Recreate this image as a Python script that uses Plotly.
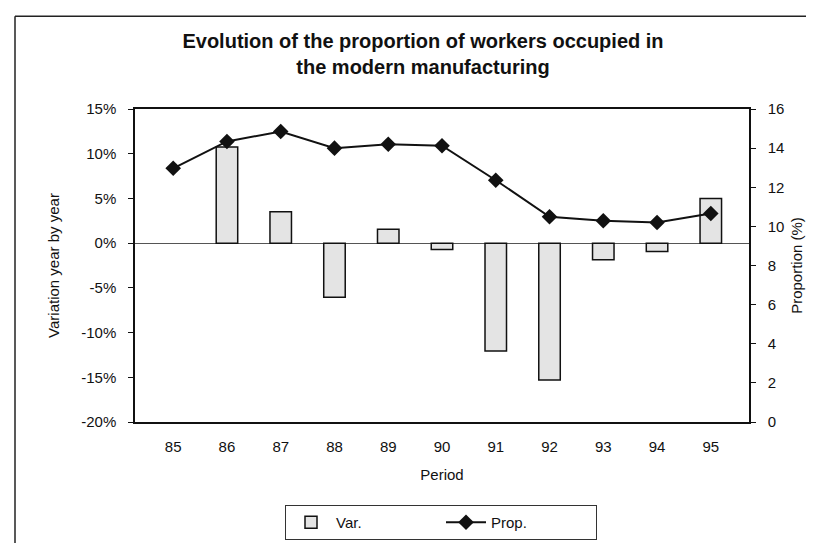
import plotly.graph_objects as go

periods = ["85", "86", "87", "88", "89", "90", "91", "92", "93", "94", "95"]
variation = [None, 0.1075, 0.035, -0.0605, 0.0155, -0.007, -0.1205, -0.153, -0.0185, -0.0093, 0.0498]
proportion = [12.97, 14.34, 14.85, 14.0, 14.2, 14.12, 12.36, 10.49, 10.29, 10.2, 10.66]

left_tickvals = [-0.20, -0.15, -0.10, -0.05, 0.0, 0.05, 0.10, 0.15]
left_ticktext = ["-20%", "-15%", "-10%", "-5%", "0%", "5%", "10%", "15%"]
right_tickvals = [0, 2, 4, 6, 8, 10, 12, 14, 16]

FONT = "Liberation Sans, Arial, sans-serif"

W, H = 814, 543
L, R, T, B = 127, 741, 101, 415
pw, ph = R - L, B - T

def px(x):
    return (x - L) / pw

def py(y):
    return (B - y) / ph

fig = go.Figure()
fig.add_trace(go.Bar(
    x=periods, y=variation, name="Var.", width=0.4,
    marker=dict(color="#e4e4e4", line=dict(color="#111111", width=1.5)),
    yaxis="y",
))
fig.add_trace(go.Scatter(
    x=periods, y=proportion, name="Prop.", mode="lines+markers",
    line=dict(color="#111111", width=2),
    marker=dict(symbol="diamond", size=12, color="#111111"),
    yaxis="y2",
))

fig.update_layout(
    width=W, height=H,
    margin=dict(l=L, r=W - R, t=T, b=H - B),
    paper_bgcolor="white", plot_bgcolor="white",
    font=dict(family=FONT, size=15, color="#111111"),
    title=dict(
        text="<b>Evolution of the proportion of workers occupied in<br>the modern manufacturing</b>",
        font=dict(family=FONT, size=20, color="#111111"),
        x=px(415), xanchor="center", xref="paper",
        y=1 - 40 / H, yanchor="top", yref="container",
    ),
    xaxis=dict(
        type="category", showline=True, linecolor="#111111", linewidth=1.5, mirror=True,
        ticks="", showgrid=False, tickfont=dict(size=15), ticklabelstandoff=10,
        title=dict(text="Period", font=dict(size=15), standoff=16),
    ),
    yaxis=dict(
        range=[-0.2, 0.15], tickvals=left_tickvals, ticktext=left_ticktext,
        showline=True, linecolor="#111111", linewidth=1.5,
        ticks="outside", ticklen=5, tickcolor="#111111", showgrid=False,
        zeroline=True, zerolinecolor="#555555", zerolinewidth=1,
        tickfont=dict(size=15), ticklabelstandoff=9,
        title=dict(text="Variation year by year", font=dict(size=15), standoff=18),
    ),
    yaxis2=dict(
        range=[0, 16], tickvals=right_tickvals, overlaying="y", side="right",
        showline=True, linecolor="#111111", linewidth=1.5,
        ticks="outside", ticklen=5, tickcolor="#111111", showgrid=False, zeroline=False,
        tickfont=dict(size=15), ticklabelstandoff=9,
        title=dict(text="Proportion (%)", font=dict(size=15), standoff=8),
    ),
    legend=dict(
        orientation="h", x=px(277), xanchor="left", y=py(497), yanchor="top",
        bordercolor="#333333", borderwidth=1, bgcolor="white",
        entrywidth=100, itemwidth=40, font=dict(size=15),
    ),
    showlegend=True,
)

# outer figure frame (top and left border of the scanned figure)
fig.add_shape(type="line", xref="paper", yref="paper",
              x0=px(7), x1=px(814), y0=py(8), y1=py(8),
              line=dict(color="#222222", width=1.5))
fig.add_shape(type="line", xref="paper", yref="paper",
              x0=px(7), x1=px(7), y0=py(8), y1=py(543),
              line=dict(color="#222222", width=1.5))

fig.write_html("out.html")
